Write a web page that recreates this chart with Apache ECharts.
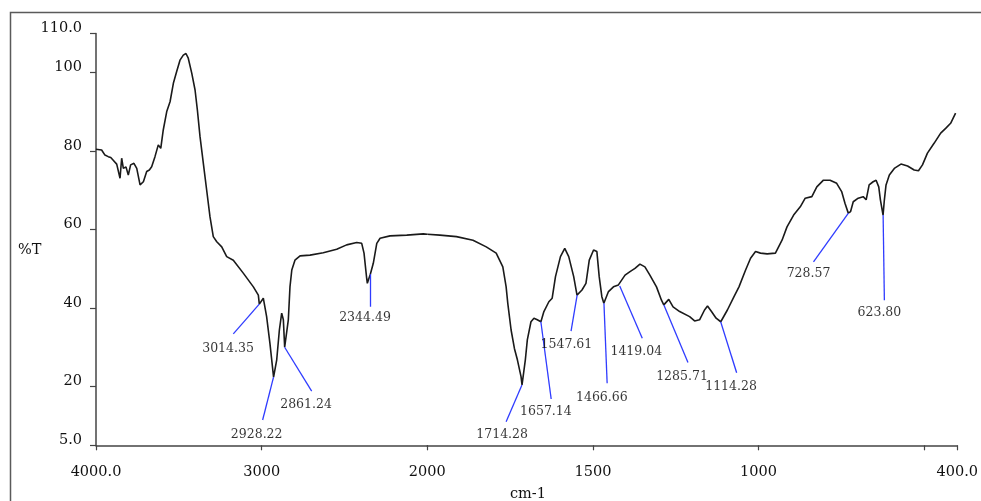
<!DOCTYPE html>
<html>
<head>
<meta charset="utf-8">
<script src="https://cdn.jsdelivr.net/npm/echarts@6/dist/echarts.min.js"></script>
<style>
html,body{margin:0;padding:0;background:#fff;}
#chart{width:981px;height:501px;}
</style>
</head>
<body>
<div id="chart"></div>
<script>
// Wavenumber (cm-1) and transmittance (%T)
var wavenumbers = [4000,3966,3946,3926,3911,3896,3875,3855,3845,3835,3819,3805,3791,3771,3754,3734,3714,3694,3678,3664,3644,3624,3609,3594,3573,3553,3533,3513,3493,3473,3457,3443,3422,3402,3388,3372,3352,3332,3312,3292,3271,3241,3211,3171,3111,3050,3020,3014,2990,2970,2950,2928,2909,2893,2879,2869,2861,2839,2829,2818,2799,2768,2708,2628,2547,2487,2426,2396,2382,2366,2362,2344,2326,2305,2285,2225,2124,2024,2000,
  1962,1912,1862,1822,1792,1772,1762,1757,1747,1737,1728,1717,1714,1704,1698,1687,1678,1668,1657,1648,1633,1623,1613,1598,1585,1573,1558,1548,1533,1521,1511,1498,1488,1481,1473,1467,1453,1438,1423,1419,1403,1388,1373,1358,1343,1328,1308,1293,1286,1271,1258,1238,1208,1193,1178,1163,1154,1142,1128,1114,1094,1074,1059,1039,1024,1009,994,974,949,929,914,894,874,859,839,824,804,784,764,749,739,729,722,714,699,684,675,666,654,645,637,632,624,620,615,605,590,570,550,530,517,505,490,470,450,435,420,405];
var transmittance = [80.5,80.3,79.0,78.6,78.4,77.7,76.7,73.1,78.2,75.6,76.0,73.9,76.5,76.9,75.6,71.4,72.2,74.8,75.2,76.0,78.6,81.6,80.7,85.4,90.1,92.6,97.3,100.3,103.2,104.5,104.9,103.7,99.9,95.6,90.5,83.7,76.9,70.1,63.3,58.2,56.9,55.6,53.1,52.2,48.9,45.4,43.3,41.0,42.5,37.8,31.0,22.4,26.8,34.4,38.7,37.0,30.0,37.0,45.4,49.7,52.2,53.3,53.5,54.1,55.0,56.1,56.7,56.5,54.0,47.6,46.3,48.6,51.4,56.5,57.8,58.4,58.6,58.9,58.8,
  58.6,58.2,57.3,55.6,54.0,50.5,45.4,41.2,34.4,29.7,26.8,22.5,20.4,26.8,31.9,36.5,37.4,37.0,36.5,39.1,41.6,42.5,48.0,53.1,55.2,53.1,48.0,43.3,44.6,46.3,52.2,54.8,54.4,48.0,42.9,41.2,44.2,45.4,45.9,45.6,48.4,49.3,50.1,51.2,50.5,48.4,45.4,42.0,40.8,42.2,40.3,39.1,37.8,36.7,37.0,39.5,40.5,39.1,37.4,36.5,39.5,42.9,45.4,49.7,52.7,54.4,54.0,53.8,54.0,57.3,60.7,63.7,65.8,68.0,68.4,70.9,72.6,72.6,71.8,69.7,66.7,64.2,64.6,67.1,68.0,68.4,67.6,71.4,72.2,72.6,70.9,67.6,63.7,67.6,71.4,73.9,75.6,76.7,76.2,75.2,75.0,76.5,79.5,82.0,84.6,85.8,87.1,89.7];

// Peak annotations
var peakLabels  = ['3014.35','2928.22','2861.24','2344.49','1714.28','1657.14','1547.61','1466.66','1419.04','1285.71','1114.28','728.57','623.80'];
var peakWn      = [3014.35,2928.22,2861.24,2344.49,1714.28,1657.14,1547.61,1466.66,1419.04,1285.71,1114.28,728.57,623.80];
var peakT       = [41.0,22.4,30.0,48.6,20.4,36.5,43.3,41.2,45.6,40.8,36.5,64.2,63.7];
var leaderEndWn = [3171,2994,2698,2344.49,1762,1626,1566,1457,1351,1213,1066,834,620];
var leaderEndT  = [33.4,11.45,18.8,40.3,11.0,16.8,34.1,20.8,32.3,26.1,23.5,51.8,42.0];
var labelWn     = [3203,3030,2732,2376,1774,1642,1580,1473,1369,1231,1083,849,635];
var labelT      = [29.55,7.8,15.3,37.4,7.8,13.6,30.6,17.1,28.9,22.5,19.9,48.7,38.9];

// Axis tick values
var xTicksHigh = [4000,3000,2000];
var xTicksLow = [1500,1000,500,400];
var xLabelsLow = [1500,1000,400];
var yTicks = [5,20,40,60,80,100,110];

var FONT = 'DejaVu Serif';
var AXIS_COLOR = '#444';
var TEXT_COLOR = '#111';

var hi = [], lo = [];
for (var i = 0; i < wavenumbers.length; i++) {
  if (wavenumbers[i] >= 2000) hi.push([wavenumbers[i], transmittance[i]]);
  if (wavenumbers[i] <= 2000) lo.push([wavenumbers[i], transmittance[i]]);
}
var linesHi = [], linesLo = [], labsHi = [], labsLo = [];
for (var k = 0; k < peakLabels.length; k++) {
  var seg = {coords: [[peakWn[k], peakT[k]], [leaderEndWn[k], leaderEndT[k]]]};
  var lab = {name: peakLabels[k], value: [labelWn[k], labelT[k]]};
  if (peakWn[k] >= 2000) { linesHi.push(seg); labsHi.push(lab); }
  else { linesLo.push(seg); labsLo.push(lab); }
}

function fmtX(v) { return (v === 4000 || v === 400) ? v.toFixed(1) : String(v); }
function fmtY(v) { return (v === 5 || v === 110) ? v.toFixed(1) : String(v); }

var plotTop = 33.5, plotH = 411.8;
var axisCommon = {
  axisLine: {show: true, lineStyle: {color: AXIS_COLOR, width: 1.5}},
  splitLine: {show: false}
};

var chart = echarts.init(document.getElementById('chart'), null, {renderer: 'canvas'});
var lineStyle = {color: '#1a1a1a', width: 1.6};
var leaderStyle = {color: '#2f3cff', width: 1.3, opacity: 1, curveness: 0};
var labelStyle = {show: true, position: 'inside', formatter: function (p) { return p.name; },
  fontFamily: FONT, fontSize: 12.5, color: '#000'};

chart.setOption({
  animation: false,
  backgroundColor: '#fff',
  grid: [
    {left: 96, top: plotTop, width: 331.3, height: plotH},
    {left: 427.3, top: plotTop, width: 534.4, height: plotH}
  ],
  xAxis: [
    Object.assign({}, axisCommon, {
      type: 'value', gridIndex: 0, inverse: true, min: 2000, max: 4000, interval: 1000,
      axisTick: {show: true, length: 5, lineStyle: {color: AXIS_COLOR, width: 1.2}},
      axisLabel: {formatter: fmtX, fontFamily: FONT, fontSize: 14.5, color: TEXT_COLOR, margin: 19, showMinLabel: true, showMaxLabel: true}
    }),
    Object.assign({}, axisCommon, {
      type: 'value', gridIndex: 1, inverse: true, min: 400, max: 2000,
      axisTick: {show: true, length: 5, customValues: xTicksLow, lineStyle: {color: AXIS_COLOR, width: 1.2}},
      axisLabel: {customValues: xLabelsLow, formatter: fmtX, fontFamily: FONT, fontSize: 14.5, color: TEXT_COLOR, margin: 19}
    })
  ],
  yAxis: [
    Object.assign({}, axisCommon, {
      type: 'value', gridIndex: 0, min: 5, max: 110,
      axisTick: {show: true, length: 6, customValues: yTicks, lineStyle: {color: AXIS_COLOR, width: 1.2}},
      axisLabel: {customValues: yTicks, formatter: fmtY, fontFamily: FONT, fontSize: 14.5, color: TEXT_COLOR, margin: 14, verticalAlign: 'bottom', lineHeight: 10}
    }),
    {type: 'value', gridIndex: 1, min: 5, max: 110, show: false, splitLine: {show: false}}
  ],
  series: [
    {type: 'line', xAxisIndex: 0, yAxisIndex: 0, data: hi, symbol: 'none', lineStyle: lineStyle, z: 3},
    {type: 'line', xAxisIndex: 1, yAxisIndex: 1, data: lo, symbol: 'none', lineStyle: lineStyle, z: 3},
    {type: 'lines', coordinateSystem: 'cartesian2d', xAxisIndex: 0, yAxisIndex: 0, data: linesHi, lineStyle: leaderStyle, z: 4},
    {type: 'lines', coordinateSystem: 'cartesian2d', xAxisIndex: 1, yAxisIndex: 1, data: linesLo, lineStyle: leaderStyle, z: 4},
    {type: 'scatter', xAxisIndex: 0, yAxisIndex: 0, data: labsHi, symbolSize: 1, itemStyle: {color: 'rgba(0,0,0,0)'}, label: labelStyle, z: 5},
    {type: 'scatter', xAxisIndex: 1, yAxisIndex: 1, data: labsLo, symbolSize: 1, itemStyle: {color: 'rgba(0,0,0,0)'}, label: labelStyle, z: 5}
  ],
  graphic: [
    {type: 'rect', shape: {x: 10.5, y: 12.5, width: 1000, height: 1000}, style: {fill: 'none', stroke: '#5a5a5a', lineWidth: 1.5}, silent: true},
    {type: 'text', style: {text: '%T', x: 18, y: 250, verticalAlign: 'middle', align: 'left', font: '14.5px "DejaVu Serif"', fill: TEXT_COLOR}},
    {type: 'text', style: {text: 'cm-1', x: 528, y: 494, verticalAlign: 'middle', align: 'center', font: '14.5px "DejaVu Serif"', fill: TEXT_COLOR}}
  ]
});
</script>
</body>
</html>
